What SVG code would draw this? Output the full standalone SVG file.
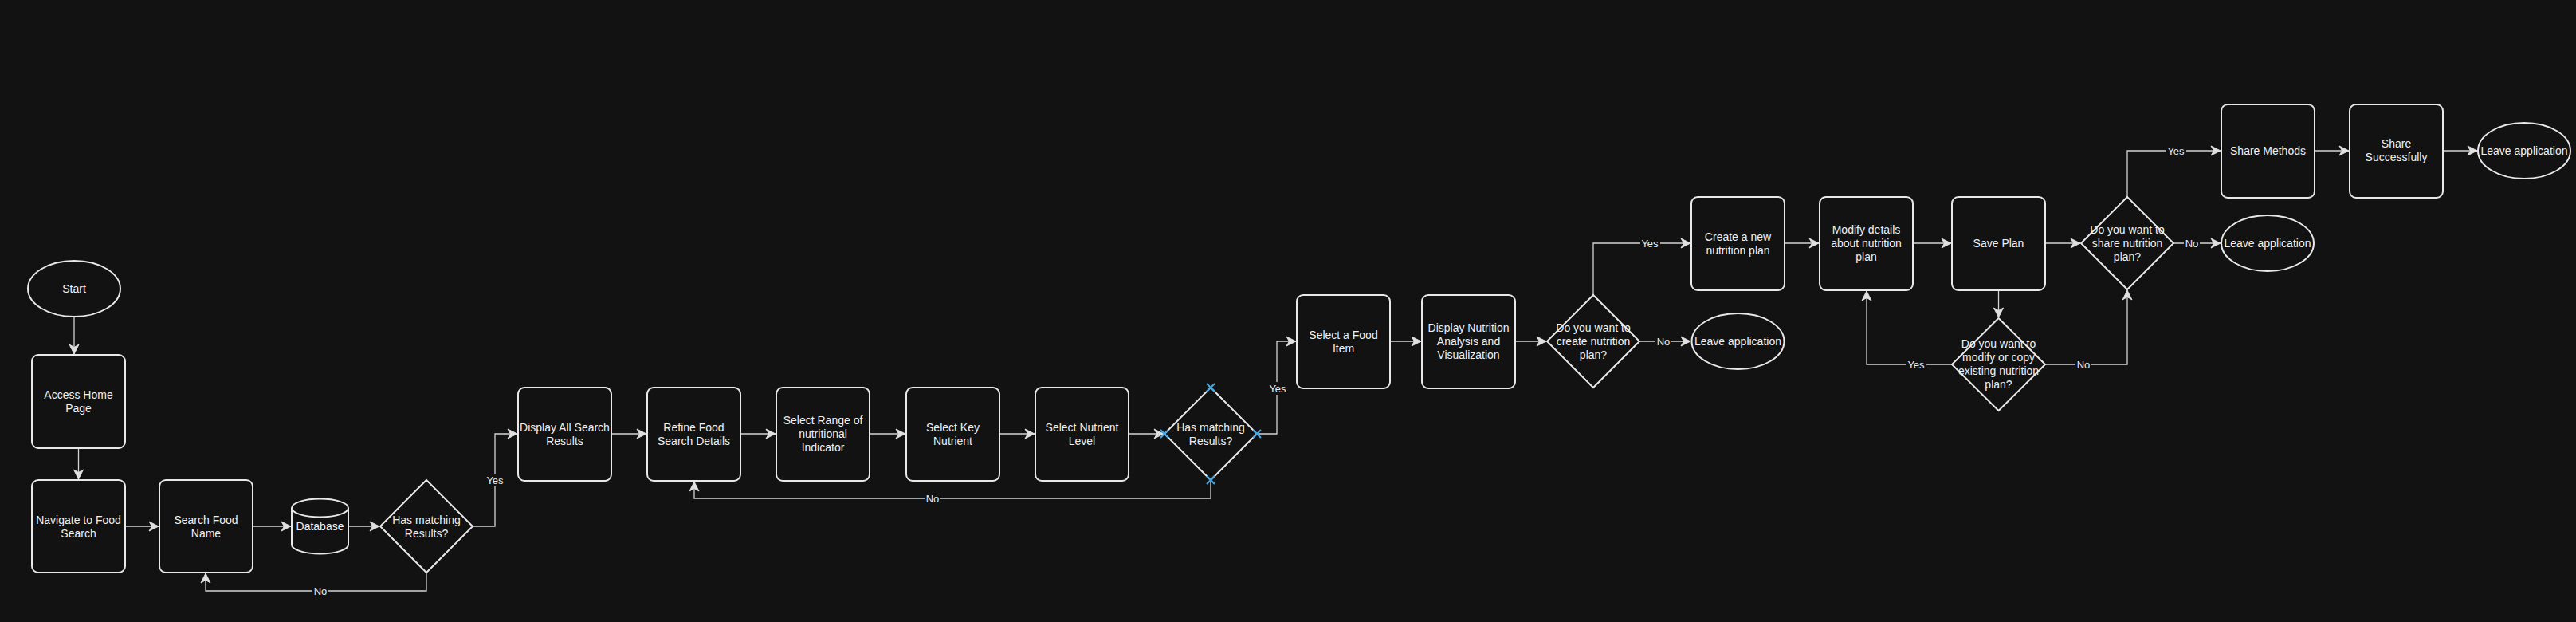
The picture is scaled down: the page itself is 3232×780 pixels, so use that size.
<svg xmlns="http://www.w3.org/2000/svg" width="3232" height="780" viewBox="0 0 3232 780">
<style>
.n{fill:#121212;stroke:#e8e8e8;stroke-width:2}
.t{font-family:"Liberation Sans",Arial,sans-serif;font-size:14px;fill:#f0f0f0;text-anchor:middle}
.c{fill:none;stroke:#d4d4d4;stroke-width:1.3}
.l{font-family:"Liberation Sans",Arial,sans-serif;font-size:13px;fill:#ececec;text-anchor:middle}
.lb{fill:#121212}
.x{stroke:#45a6e4;stroke-width:2.2;fill:none}
</style>
<defs>
<marker id="a" markerUnits="userSpaceOnUse" markerWidth="14" markerHeight="14" refX="12" refY="6" orient="auto" overflow="visible">
<path d="M0,0 L12,6 L0,12 L3.5,6 Z" fill="#e0e0e0" stroke="#e0e0e0" stroke-width="1"/>
</marker>
</defs>
<rect width="3232" height="780" fill="#121212"/>

<g id="connectors">
<path class="c" marker-end="url(#a)" d="M93,397 V444"/>
<path class="c" marker-end="url(#a)" d="M98.5,562 V601"/>
<path class="c" marker-end="url(#a)" d="M157,660 H199"/>
<path class="c" marker-end="url(#a)" d="M317,660 H365"/>
<path class="c" marker-end="url(#a)" d="M437,660 H476"/>
<path class="c" marker-end="url(#a)" d="M593,660 H621 V544 H649"/>
<path class="c" marker-end="url(#a)" d="M535,718 V741 H258 V719"/>
<path class="c" marker-end="url(#a)" d="M767,544 H811"/>
<path class="c" marker-end="url(#a)" d="M929,544 H973"/>
<path class="c" marker-end="url(#a)" d="M1091,544 H1136"/>
<path class="c" marker-end="url(#a)" d="M1254,544 H1298"/>
<path class="c" marker-end="url(#a)" d="M1416,544 H1460"/>
<path class="c" marker-end="url(#a)" d="M1519,602 V625 H871 V604"/>
<path class="c" marker-end="url(#a)" d="M1577,544 H1602 V428 H1626"/>
<path class="c" marker-end="url(#a)" d="M1744,428 H1783"/>
<path class="c" marker-end="url(#a)" d="M1901,428 H1940"/>
<path class="c" marker-end="url(#a)" d="M2057,428 H2121"/>
<path class="c" marker-end="url(#a)" d="M1999,370 V305 H2121"/>
<path class="c" marker-end="url(#a)" d="M2239,305 H2282"/>
<path class="c" marker-end="url(#a)" d="M2400,305 H2448"/>
<path class="c" marker-end="url(#a)" d="M2566,305 H2610"/>
<path class="c" marker-end="url(#a)" d="M2507.5,364 V398"/>
<path class="c" marker-end="url(#a)" d="M2449,457 H2342 V365"/>
<path class="c" marker-end="url(#a)" d="M2565,457 H2669 V364"/>
<path class="c" marker-end="url(#a)" d="M2727,305 H2786"/>
<path class="c" marker-end="url(#a)" d="M2669,247 V189 H2786"/>
<path class="c" marker-end="url(#a)" d="M2904,189 H2947"/>
<path class="c" marker-end="url(#a)" d="M3065,189 H3108"/>
<g id="labels">
<rect class="lb" x="609" y="594" width="25" height="16"/><text class="l" x="621" y="607">Yes</text>
<rect class="lb" x="392" y="733" width="20" height="16"/><text class="l" x="402" y="746">No</text>
<rect class="lb" x="1160" y="617" width="20" height="16"/><text class="l" x="1170" y="630">No</text>
<rect class="lb" x="1591" y="479" width="25" height="16"/><text class="l" x="1603" y="492">Yes</text>
<rect class="lb" x="2077" y="420" width="20" height="16"/><text class="l" x="2087" y="433">No</text>
<rect class="lb" x="2058" y="297" width="25" height="16"/><text class="l" x="2070" y="310">Yes</text>
<rect class="lb" x="2392" y="449" width="25" height="16"/><text class="l" x="2404" y="462">Yes</text>
<rect class="lb" x="2604" y="449" width="20" height="16"/><text class="l" x="2614" y="462">No</text>
<rect class="lb" x="2740" y="297" width="20" height="16"/><text class="l" x="2750" y="310">No</text>
<rect class="lb" x="2718" y="181" width="25" height="16"/><text class="l" x="2730" y="194">Yes</text>
</g>
</g>

<g id="start"><ellipse class="n" cx="93" cy="362" rx="58" ry="35"/><text class="t" x="93" y="367">Start</text></g>
<g id="access"><rect class="n" x="40" y="445" width="117" height="117" rx="8"/><text class="t" x="98.5" y="500">Access Home</text><text class="t" x="98.5" y="517">Page</text></g>
<g id="navigate"><rect class="n" x="40" y="602" width="117" height="116" rx="8"/><text class="t" x="98.5" y="657">Navigate to Food</text><text class="t" x="98.5" y="674">Search</text></g>
<g id="search"><rect class="n" x="200" y="602" width="117" height="116" rx="8"/><text class="t" x="258.5" y="657">Search Food</text><text class="t" x="258.5" y="674">Name</text></g>
<g id="database"><path class="n" d="M366,637 A35.5,11.5 0 0 1 437,637 V683 A35.5,11.5 0 0 1 366,683 Z"/><path class="n" fill="none" d="M366,637 A35.5,11.5 0 0 0 437,637"/><text class="t" x="401.5" y="665">Database</text></g>
<g id="dec1"><path class="n" d="M535,602 L593,660 L535,718 L477,660 Z"/><text class="t" x="535" y="657">Has matching</text><text class="t" x="535" y="674">Results?</text></g>
<g id="display"><rect class="n" x="650" y="486" width="117" height="117" rx="8"/><text class="t" x="708.5" y="541">Display All Search</text><text class="t" x="708.5" y="558">Results</text></g>
<g id="refine"><rect class="n" x="812" y="486" width="117" height="117" rx="8"/><text class="t" x="870.5" y="541">Refine Food</text><text class="t" x="870.5" y="558">Search Details</text></g>
<g id="range"><rect class="n" x="974" y="486" width="117" height="117" rx="8"/><text class="t" x="1032.5" y="532">Select Range of</text><text class="t" x="1032.5" y="549">nutritional</text><text class="t" x="1032.5" y="566">Indicator</text></g>
<g id="key"><rect class="n" x="1137" y="486" width="117" height="117" rx="8"/><text class="t" x="1195.5" y="541">Select Key</text><text class="t" x="1195.5" y="558">Nutrient</text></g>
<g id="level"><rect class="n" x="1299" y="486" width="117" height="117" rx="8"/><text class="t" x="1357.5" y="541">Select Nutrient</text><text class="t" x="1357.5" y="558">Level</text></g>
<g id="dec2"><path class="n" d="M1519,486 L1577,544 L1519,602 L1461,544 Z"/><text class="t" x="1519" y="541">Has matching</text><text class="t" x="1519" y="558">Results?</text>
<path class="x" d="M1514,481 L1524,491 M1524,481 L1514,491 M1456,539 L1466,549 M1466,539 L1456,549 M1572,539 L1582,549 M1582,539 L1572,549 M1514,597 L1524,607 M1524,597 L1514,607"/></g>
<g id="food"><rect class="n" x="1627" y="370" width="117" height="117" rx="8"/><text class="t" x="1685.5" y="425">Select a Food</text><text class="t" x="1685.5" y="442">Item</text></g>
<g id="analysis"><rect class="n" x="1784" y="370" width="117" height="117" rx="8"/><text class="t" x="1842.5" y="416">Display Nutrition</text><text class="t" x="1842.5" y="433">Analysis and</text><text class="t" x="1842.5" y="450">Visualization</text></g>
<g id="dec3"><path class="n" d="M1999,370 L2057,428 L1999,486 L1941,428 Z"/><text class="t" x="1999" y="416">Do you want to</text><text class="t" x="1999" y="433">create nutrition</text><text class="t" x="1999" y="450">plan?</text></g>
<g id="leave1"><ellipse class="n" cx="2180.5" cy="428" rx="58" ry="35"/><text class="t" x="2180.5" y="433">Leave application</text></g>
<g id="create"><rect class="n" x="2122" y="247" width="117" height="117" rx="8"/><text class="t" x="2180.5" y="302">Create a new</text><text class="t" x="2180.5" y="319">nutrition plan</text></g>
<g id="modify"><rect class="n" x="2283" y="247" width="117" height="117" rx="8"/><text class="t" x="2341.5" y="293">Modify details</text><text class="t" x="2341.5" y="310">about nutrition</text><text class="t" x="2341.5" y="327">plan</text></g>
<g id="save"><rect class="n" x="2449" y="247" width="117" height="117" rx="8"/><text class="t" x="2507.5" y="310">Save Plan</text></g>
<g id="dec5"><path class="n" d="M2507.5,399 L2566,457 L2507.5,515 L2449,457 Z"/><text class="t" x="2507.5" y="436">Do you want to</text><text class="t" x="2507.5" y="453">modify or copy</text><text class="t" x="2507.5" y="470">existing nutrition</text><text class="t" x="2507.5" y="487">plan?</text></g>
<g id="dec4"><path class="n" d="M2669,247 L2727,305 L2669,363 L2611,305 Z"/><text class="t" x="2669" y="293">Do you want to</text><text class="t" x="2669" y="310">share nutrition</text><text class="t" x="2669" y="327">plan?</text></g>
<g id="leave2"><ellipse class="n" cx="2845" cy="305" rx="58" ry="35"/><text class="t" x="2845" y="310">Leave application</text></g>
<g id="share"><rect class="n" x="2787" y="131" width="117" height="117" rx="8"/><text class="t" x="2845.5" y="194">Share Methods</text></g>
<g id="success"><rect class="n" x="2948" y="131" width="117" height="117" rx="8"/><text class="t" x="3006.5" y="185">Share</text><text class="t" x="3006.5" y="202">Successfully</text></g>
<g id="leave3"><ellipse class="n" cx="3167" cy="189" rx="58" ry="35"/><text class="t" x="3167" y="194">Leave application</text></g>
</svg>
